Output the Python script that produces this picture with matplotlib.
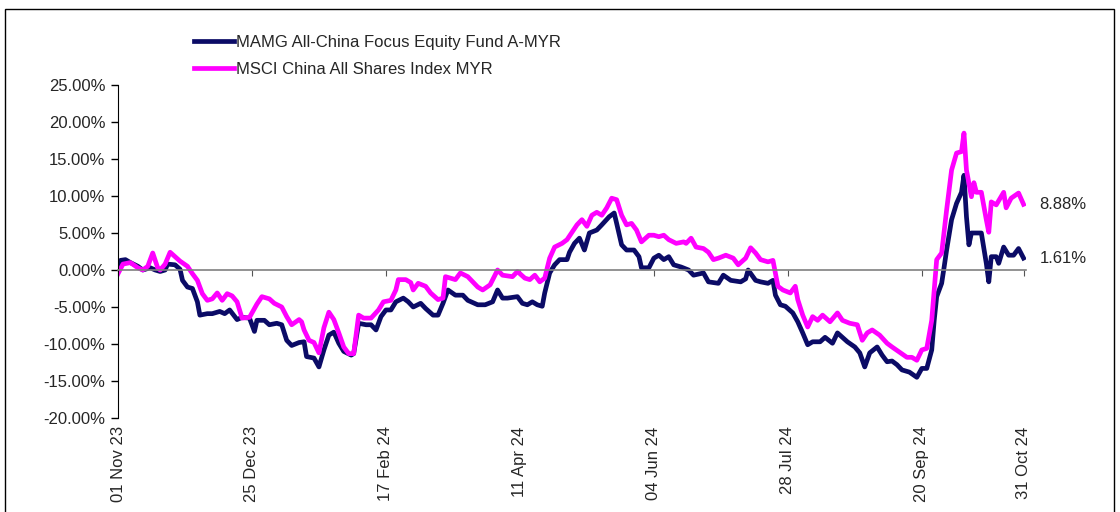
import pandas as pd
import matplotlib.pyplot as plt
import matplotlib.dates as mdates
from matplotlib.patches import Rectangle
from matplotlib.ticker import FuncFormatter

# cumulative return (%), keyed by days since 01 Nov 23
start_date = pd.Timestamp('2023-11-01')
end_date = pd.Timestamp('2024-10-31')

fund_days = [0, 1, 3, 5, 8, 10, 13, 15, 17, 19, 20, 23, 25, 26, 28, 30, 32, 33, 36, 38,
             41, 43, 45, 48, 50, 53, 55, 56, 59, 61, 64, 66, 68, 70, 73, 75, 76, 79, 81, 83,
             85, 87, 89, 91, 94, 95, 97, 100, 102, 104, 106, 108, 110, 112, 115, 117, 119, 122, 124, 127,
             129, 131, 133, 136, 139, 141, 143, 145, 148, 151, 153, 155, 157, 161, 163, 165, 167, 169, 171, 172,
             174, 176, 178, 181, 182, 184, 186, 188, 190, 193, 195, 198, 200, 201, 203, 205, 208, 210, 211, 214,
             216, 218, 220, 222, 224, 227, 230, 232, 236, 238, 242, 244, 247, 251, 253, 254, 257, 259, 262, 264,
             265, 267, 269, 272, 274, 276, 278, 280, 283, 285, 288, 290, 292, 294, 297, 299, 301, 303, 306, 308,
             310, 312, 314, 316, 319, 322, 324, 326, 328, 329, 330, 332, 333, 334, 336, 338, 340, 341, 342, 343,
             344, 348, 350, 351, 352, 354, 355, 357, 359, 361, 363, 365]
fund_ret = [0.0, 1.3, 1.4, 1.0, 0.5, 0.0, 0.3, 0.0, -0.2, 0.0, 0.8, 0.7, 0.1, -1.4, -2.3, -2.5, -4.3, -6.1, -5.9, -5.9,
            -5.6, -5.9, -5.4, -6.7, -6.4, -6.5, -8.3, -6.8, -6.8, -7.4, -7.2, -7.4, -9.5, -10.2, -9.8, -9.7, -11.7, -11.9, -13.1, -10.8,
            -8.8, -8.4, -9.9, -11.0, -11.5, -11.3, -7.2, -7.4, -7.4, -8.1, -6.3, -5.4, -5.4, -4.3, -3.8, -4.3, -5.0, -4.5, -5.2, -6.1,
            -6.1, -4.5, -2.7, -3.4, -3.4, -4.1, -4.4, -4.7, -4.7, -4.3, -2.7, -3.8, -3.8, -3.6, -4.5, -4.7, -4.3, -4.7, -4.9, -3.1,
            -0.4, 0.7, 1.4, 1.4, 2.4, 3.6, 4.3, 2.7, 5.0, 5.4, 6.1, 7.2, 7.7, 6.3, 3.4, 2.7, 2.7, 1.8, 0.3, 0.3,
            1.6, 2.0, 1.4, 1.8, 0.7, 0.4, 0.0, -0.7, -0.4, -1.6, -1.8, -0.7, -1.4, -1.6, -1.2, 0.0, -1.4, -1.6, -1.8, -1.4,
            -3.4, -4.7, -4.9, -5.8, -7.0, -8.5, -10.1, -9.7, -9.7, -9.1, -9.9, -8.5, -9.1, -9.7, -10.4, -11.2, -13.1, -11.2, -10.4, -11.5,
            -12.4, -12.3, -12.8, -13.5, -13.8, -14.5, -13.3, -13.3, -10.8, -6.8, -3.6, -1.8, 0.4, 2.7, 6.8, 9.0, 10.5, 12.8, 7.2, 3.4,
            5.0, 5.0, 0.9, -1.6, 1.8, 1.8, 0.9, 3.1, 2.0, 2.0, 2.9, 1.61]

index_days = [0, 2, 5, 8, 10, 12, 14, 16, 17, 19, 21, 23, 25, 28, 30, 32, 34, 36, 38, 40,
              42, 44, 46, 48, 50, 53, 56, 58, 61, 63, 66, 68, 70, 73, 74, 75, 77, 79, 81, 83,
              85, 87, 89, 91, 93, 95, 97, 99, 102, 105, 107, 110, 112, 113, 116, 118, 119, 121, 124, 126,
              129, 131, 132, 134, 136, 138, 141, 143, 145, 147, 150, 153, 155, 159, 161, 164, 166, 168, 170, 172,
              174, 176, 179, 181, 183, 185, 187, 189, 191, 193, 195, 197, 199, 201, 203, 205, 207, 209, 211, 214,
              216, 218, 220, 222, 225, 228, 229, 231, 233, 236, 238, 240, 242, 245, 248, 250, 253, 255, 257, 259,
              262, 264, 266, 268, 271, 273, 274, 276, 278, 280, 282, 284, 287, 290, 292, 295, 298, 300, 302, 304,
              307, 310, 312, 315, 318, 320, 322, 324, 326, 328, 329, 330, 332, 334, 336, 338, 340, 341, 342, 344,
              345, 346, 348, 350, 351, 352, 354, 357, 358, 360, 363, 365]
index_ret = [-0.5, 0.8, 1.0, 0.3, 0.0, 0.5, 2.3, 0.3, 0.0, 0.8, 2.4, 1.8, 1.2, 0.5, -0.5, -1.4, -3.2, -4.1, -3.9, -3.1,
             -4.1, -3.2, -3.5, -4.3, -6.5, -6.4, -4.6, -3.6, -3.9, -4.5, -5.0, -6.3, -7.4, -6.7, -7.0, -8.1, -9.5, -9.8, -11.2, -7.8,
             -5.7, -6.7, -8.5, -10.4, -11.3, -11.3, -6.1, -6.5, -6.5, -5.4, -4.3, -4.1, -2.7, -1.3, -1.3, -1.7, -2.7, -1.8, -2.2, -3.1,
             -4.0, -3.8, -0.9, -1.1, -1.3, -0.4, -0.9, -1.6, -2.3, -2.7, -2.0, 0.0, -0.7, -0.9, -0.2, -1.1, -1.3, -0.7, -1.6, -1.1,
             1.6, 3.1, 3.6, 4.1, 5.1, 6.1, 6.8, 5.9, 7.4, 7.8, 7.4, 8.4, 9.7, 9.5, 7.4, 6.1, 6.3, 5.4, 3.8, 4.7,
             4.7, 4.5, 4.7, 4.1, 3.6, 3.8, 3.6, 4.3, 3.1, 2.9, 2.4, 1.4, 1.6, 2.0, 1.6, 0.7, 1.6, 3.0, 2.3, 1.4,
             1.1, 1.3, -2.2, -2.7, -3.1, -2.2, -4.0, -6.1, -7.7, -6.3, -6.8, -6.1, -7.0, -5.8, -6.8, -7.2, -7.4, -9.5, -8.5, -8.1,
             -8.8, -9.9, -10.4, -11.1, -11.8, -11.8, -12.2, -10.8, -10.6, -6.8, -2.7, 1.4, 2.3, 8.1, 13.5, 15.8, 16.0, 18.5, 13.5, 9.9,
             11.8, 10.5, 10.5, 6.8, 5.1, 9.2, 8.8, 10.5, 8.4, 9.7, 10.4, 8.88]

fund_name = 'MAMG All-China Focus Equity Fund A-MYR'
index_name = 'MSCI China All Shares Index MYR'
tick_dates = ['2023-11-01', '2023-12-25', '2024-02-17', '2024-04-11',
              '2024-06-04', '2024-07-28', '2024-09-20', '2024-10-31']
y_ticks = [25, 20, 15, 10, 5, 0, -5, -10, -15, -20]

fund_dates = start_date + pd.to_timedelta(fund_days, unit='D')
index_dates = start_date + pd.to_timedelta(index_days, unit='D')
ticks = pd.to_datetime(tick_dates)

plt.rcParams['font.family'] = ['Liberation Sans', 'DejaVu Sans']
text_color = '#262626'
navy = '#0b0b66'
magenta = '#ff00ff'

fig = plt.figure(figsize=(11.2, 5.12), dpi=100)
ax = fig.add_axes([118 / 1120, 1 - 418 / 512, (1026 - 118) / 1120, (418 - 85) / 512])

ax.plot(fund_dates, fund_ret, color=navy, lw=3.4, label=fund_name, solid_joinstyle='round')
ax.plot(index_dates, index_ret, color=magenta, lw=3.4, label=index_name, solid_joinstyle='round')

ax.set_ylim(-20, 25)
ax.set_xlim(start_date, end_date + pd.Timedelta(days=1))
ax.set_yticks(y_ticks)
ax.yaxis.set_major_formatter(FuncFormatter(lambda v, p: f'{v:.2f}%'))
ax.tick_params(axis='y', direction='out', length=5, width=1, colors='black',
               labelcolor=text_color, labelsize=12, pad=4)

# x axis line sits on zero, labels stay at the bottom
for side in ['top', 'right']:
    ax.spines[side].set_visible(False)
ax.spines['left'].set_color('black')
ax.spines['bottom'].set_position(('data', 0))
ax.spines['bottom'].set_color('#808080')
ax.spines['bottom'].set_linewidth(1.2)
ax.set_xticks(ticks)
ax.tick_params(axis='x', direction='out', length=4, color='#555555', labelbottom=False)

sec = ax.secondary_xaxis('bottom')
sec.set_xticks(ticks)
sec.xaxis.set_major_formatter(mdates.DateFormatter('%d %b %y'))
sec.tick_params(axis='x', length=0, labelsize=12, labelcolor=text_color, labelrotation=90, pad=6)
sec.spines['bottom'].set_visible(False)

ax.annotate(f'{index_ret[-1]:.2f}%', xy=(index_dates[-1], index_ret[-1]), xytext=(16, 0),
            textcoords='offset pixels', va='center', ha='left', fontsize=12, color=text_color)
ax.annotate(f'{fund_ret[-1]:.2f}%', xy=(fund_dates[-1], fund_ret[-1]), xytext=(16, 0),
            textcoords='offset pixels', va='center', ha='left', fontsize=12, color=text_color)

fig.legend(loc='upper left', bbox_to_anchor=(194 / 1120, 1 - 35 / 512), frameon=False,
           fontsize=12, handlelength=2.4, handletextpad=0.15, labelspacing=0.7,
           borderpad=0, borderaxespad=0, labelcolor=text_color)

fig.patches.append(Rectangle((5 / 1120, -0.01), 1109 / 1120, 1 - 9 / 512 + 0.01,
                             transform=fig.transFigure, fill=False, edgecolor='black', lw=1))

fig.savefig('out.png', dpi=100)
